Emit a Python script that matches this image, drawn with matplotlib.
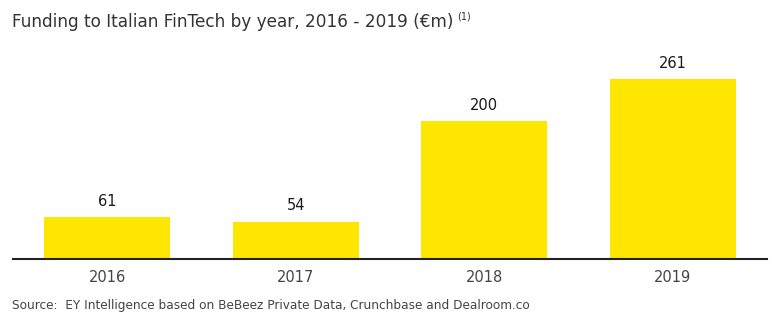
import matplotlib
matplotlib.use("Agg")
import matplotlib.pyplot as plt

plt.rcParams["font.family"] = ["DejaVu Sans"]

years = ["2016", "2017", "2018", "2019"]
funding = [61, 54, 200, 261]

title = "Funding to Italian FinTech by year, 2016 - 2019 (€m)"
footnote_mark = "(1)"
source = "Source:  EY Intelligence based on BeBeez Private Data, Crunchbase and Dealroom.co"

bar_color = "#FFE600"

fig = plt.figure(figsize=(7.8, 3.24), dpi=100)
ax = fig.add_axes([13 / 780, 65 / 324, 754 / 780, 209 / 324])

x = range(len(years))
ax.bar(x, funding, width=0.668, color=bar_color)
for xi, v in zip(x, funding):
    ax.annotate(str(v), (xi, v), xytext=(0, 6), textcoords="offset points",
                ha="center", va="bottom", fontsize=10.5, color="#1a1a1a")

ax.set_xlim(-0.5, len(years) - 0.5)
ax.set_ylim(0, 303)
ax.set_xticks(list(x))
ax.set_xticklabels(years, fontsize=10.5, color="#444444")
ax.tick_params(axis="x", length=0, pad=8)
ax.set_yticks([])
for s in ("top", "left", "right"):
    ax.spines[s].set_visible(False)
ax.spines["bottom"].set_color("#222222")
ax.spines["bottom"].set_linewidth(1.5)

title_txt = fig.text(12 / 780, 1 - 22 / 324, title, fontsize=12.2,
                     color="#333333", va="center", ha="left")
ax.annotate(footnote_mark, xy=(1, 1), xycoords=title_txt, xytext=(3, 1),
            textcoords="offset points", ha="left", va="top",
            fontsize=7, color="#333333", annotation_clip=False)
fig.text(12 / 780, 1 - 306 / 324, source, fontsize=8.75, color="#444444",
         va="center", ha="left")

fig.savefig("out.png", dpi=100, facecolor="white")
